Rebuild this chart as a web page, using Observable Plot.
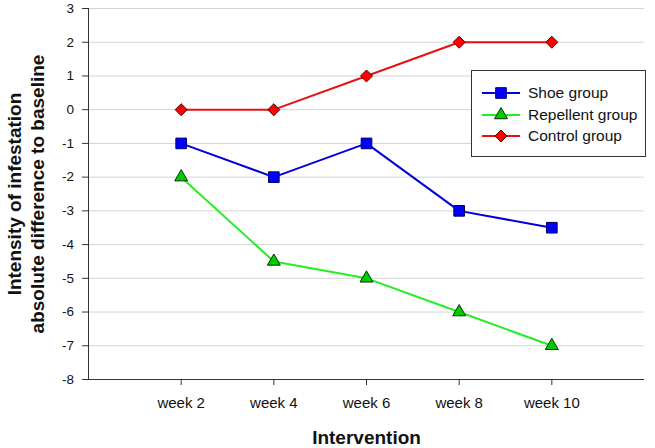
<!DOCTYPE html>
<html>
<head>
<meta charset="utf-8">
<script src="https://cdn.jsdelivr.net/npm/d3@7"></script>
<script src="https://cdn.jsdelivr.net/npm/@observablehq/plot@0.6"></script>
<style>
  html, body { margin: 0; padding: 0; background: #fff; }
  #wrap { position: relative; width: 655px; height: 448px; font-family: "Liberation Sans", Arial, sans-serif; }
  #legend { position: absolute; left: 471px; top: 70px; width: 173px; height: 85px; border: 1px solid #333; background: #fff; }
  .row { position: absolute; left: 0; height: 20px; width: 170px; }
  .row svg { position: absolute; left: 10px; top: 0; }
  .row span { position: absolute; left: 56px; top: 0px; font-size: 15.5px; line-height: 19px; color: #111; white-space: nowrap; }
</style>
</head>
<body>
<div id="wrap"></div>
<script>
// ---- data ----
const weeks = [2, 4, 6, 8, 10];
const weekLabels = ["week 2", "week 4", "week 6", "week 8", "week 10"];
const groups = ["Shoe group", "Repellent group", "Control group"];
const shoe = [-1, -2, -1, -3, -3.5];
const repellent = [-2, -4.5, -5, -6, -7];
const control = [0, 0, 1, 2, 2];
const yTicks = [-8, -7, -6, -5, -4, -3, -2, -1, 0, 1, 2, 3];
const yLabel = "Intensity of infestation\nabsolute difference to baseline";
const xLabel = "Intervention";

// ---- styles ----
const lineColors = ["#0000d8", "#22ee22", "#e81010"];
const fillColors = ["#0000ff", "#00cc00", "#ff0000"];
const edgeColors = ["#000066", "#003300", "#550000"];
const symbols = ["square", "triangle", "diamond2"];
const radii = [6, 4.8, 5.4];

const seriesValues = [shoe, repellent, control];
const rows = [];
groups.forEach((g, gi) => weeks.forEach((w, i) => rows.push({group: g, week: w, value: seriesValues[gi][i]})));

const font = "'Liberation Sans', Arial, sans-serif";

const chart = Plot.plot({
  width: 655,
  height: 448,
  marginLeft: 88,
  marginRight: 11,
  marginTop: 8,
  marginBottom: 69,
  style: {fontFamily: font, fontSize: "13px", color: "#111", background: "#fff"},
  x: {domain: [0, 12], axis: null},
  y: {domain: [-8, 3], axis: null},
  color: {domain: groups, range: lineColors},
  marks: [
    Plot.gridY(yTicks.filter(d => d > -8), {stroke: "#d4d4d4", strokeOpacity: 1}),
    Plot.axisY(yTicks, {tickSize: 6, tickPadding: 8.5, fontSize: 13.5, tickFormat: d => String(d), stroke: "#333", label: null}),
    Plot.axisX(weeks, {tickSize: 6, tickPadding: 12, fontSize: 15, tickFormat: (d, i) => weekLabels[weeks.indexOf(d)], stroke: "#333", label: null}),
    Plot.ruleX([0], {stroke: "#333"}),
    Plot.ruleY([-8], {stroke: "#333"}),
    Plot.line(rows, {x: "week", y: "value", z: "group", stroke: "group", strokeWidth: 2}),
    ...groups.map((g, gi) => Plot.dot(rows.filter(d => d.group === g), {
      x: "week", y: "value", symbol: () => symbols[gi], r: radii[gi],
      fill: fillColors[gi], stroke: edgeColors[gi], strokeWidth: 1
    })),
    Plot.text([yLabel], {frameAnchor: "left", dx: -63.5, rotate: -90, textAnchor: "middle", lineAnchor: "middle", fontSize: 19, fontWeight: "bold", lineHeight: 1.21, fill: "#111"}),
    Plot.text([xLabel], {frameAnchor: "bottom", dy: 58, lineAnchor: "middle", fontSize: 19, fontWeight: "bold", fill: "#111"})
  ]
});

const wrap = document.getElementById("wrap");
wrap.appendChild(chart);

// ---- legend ----
const legend = document.createElement("div");
legend.id = "legend";
const rowTops = [12, 33.5, 55];
groups.forEach((g, gi) => {
  const row = document.createElement("div");
  row.className = "row";
  row.style.top = rowTops[gi] + "px";
  const svg = d3.create("svg").attr("width", 40).attr("height", 20);
  svg.append("line").attr("x1", 0).attr("x2", 38).attr("y1", 10).attr("y2", 10)
    .attr("stroke", lineColors[gi]).attr("stroke-width", 2);
  const symMap = {square: d3.symbolSquare, triangle: d3.symbolTriangle, diamond2: d3.symbolDiamond2};
  svg.append("path").attr("transform", "translate(19,10)")
    .attr("d", d3.symbol(symMap[symbols[gi]], radii[gi] * radii[gi] * Math.PI)())
    .attr("fill", fillColors[gi]).attr("stroke", edgeColors[gi]);
  row.appendChild(svg.node());
  const span = document.createElement("span");
  span.textContent = g;
  row.appendChild(span);
  legend.appendChild(row);
});
wrap.appendChild(legend);
</script>
</body>
</html>
